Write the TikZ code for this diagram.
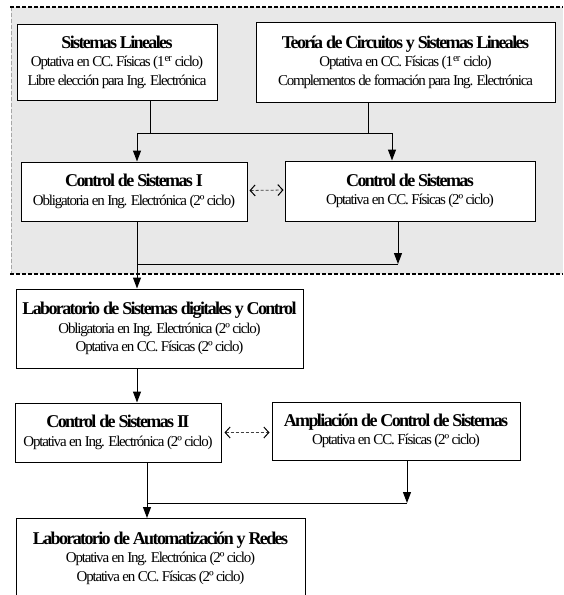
\documentclass[tikz,border=0pt]{standalone}
\usepackage{fontspec}
\setmainfont{Liberation Serif}
\usetikzlibrary{arrows.meta,calc,positioning}
\definecolor{zona}{HTML}{E8E8E8}

\newcommand{\asig}[1]{{\fontsize{18}{19}\selectfont\bfseries\addfontfeature{LetterSpace=-9}#1}}
\newcommand{\detalle}{\fontsize{15}{18.5}\selectfont\addfontfeature{LetterSpace=-8}}

\begin{document}
\begin{tikzpicture}[
  x=1pt,y=-1pt,
  line cap=butt,line join=miter,
  >={Triangle[width=8pt,length=11pt]}
]
  \tikzset{
    course/.style={draw, line width=1pt, fill=white, align=center, inner sep=0pt, font=\detalle},
    flow/.style={line width=1pt,->},
    link/.style={line width=1pt},
    equiv/.style={line width=0.8pt, draw=black!75, dash pattern=on 3pt off 2pt,
      {Straight Barb[length=5pt,width=11pt,line width=1pt,color=black]}-{Straight Barb[length=5pt,width=11pt,line width=1pt,color=black]}},
    zonaedge/.style={line width=1.3pt, dash pattern=on 4pt off 2pt}
  }
  \useasboundingbox (0,0) rectangle (563,595);
  \clip (0,0) rectangle (563,595);

  % Common first-cycle zone
  \fill[zona] (11,7) rectangle (563,274);
  \draw[line width=0.6pt, draw=black!35, dash pattern=on 4pt off 2pt] (11,7) -- (11,274);
  \draw[zonaedge] (10,7) -- (563,7);
  \draw[zonaedge] (10,274) -- (563,274);

  % Subjects
  \node[course, minimum width=200pt, minimum height=76pt] (sl) at (117,62)
    {\asig{Sistemas Lineales}\\ Optativa en CC. Físicas (1\textsuperscript{er} ciclo)\\ Libre elección para Ing. Electrónica};
  \node[course, minimum width=299pt, minimum height=80pt] (tcsl) at (405.5,62)
    {\asig{Teoría de Circuitos y Sistemas Lineales}\\ Optativa en CC. Físicas (1\textsuperscript{er} ciclo)\\ Complementos de formación para Ing. Electrónica};
  \node[course, minimum width=226pt, minimum height=59pt] (csi) at (134,191.5)
    {\asig{Control de Sistemas I}\\ Obligatoria en Ing. Electrónica (2º ciclo)};
  \node[course, minimum width=250pt, minimum height=60pt] (cs) at (410,191)
    {\asig{Control de Sistemas}\\ Optativa en CC. Físicas (2º ciclo)};
  \node[course, minimum width=287pt, minimum height=79pt] (lsdc) at (159.5,328.5)
    {\asig{Laboratorio de Sistemas digitales y Control}\\ Obligatoria en Ing. Electrónica (2º ciclo)\\ Optativa en CC. Físicas (2º ciclo)};
  \node[course, minimum width=206pt, minimum height=59pt] (csii) at (118,432.5)
    {\asig{Control de Sistemas II}\\ Optativa en Ing. Electrónica (2º ciclo)};
  \node[course, minimum width=248pt, minimum height=58pt] (acs) at (396,431)
    {\asig{Ampliación de Control de Sistemas}\\ Optativa en CC. Físicas (2º ciclo)};
  \node[course, minimum width=289pt, minimum height=79pt, anchor=north] (lar) at (160.5,518)
    {\asig{Laboratorio de Automatización y Redes}\\ Optativa en Ing. Electrónica (2º ciclo)\\ Optativa en CC. Físicas (2º ciclo)};

  % Junctions
  \coordinate (ja) at (150,133);
  \coordinate (jb) at (368,133);
  \coordinate (jl) at (137,133);
  \coordinate (jr) at (392,133);
  \coordinate (kl) at (137,264);
  \coordinate (kr) at (398,264);
  \coordinate (ml) at (147,503);
  \coordinate (mr) at (407,503);

  % Connectors
  \draw[link] (ja |- sl.south) -- (ja);
  \draw[link] (jb |- tcsl.south) -- (jb);
  \draw[link] (jl) -- (jr);
  \draw[flow] (jl) -- (jl |- csi.north);
  \draw[flow] (jr) -- (jr |- cs.north);
  \draw[flow] (kl |- csi.south) -- (kl |- lsdc.north);
  \draw[flow] (kr |- cs.south) -- (kr);
  \draw[link] (kr) -- (kl);
  \draw[flow] (kl |- lsdc.south) -- (kl |- csii.north);
  \draw[flow] (ml |- csii.south) -- (ml |- lar.north);
  \draw[flow] (mr |- acs.south) -- (mr);
  \draw[link] (mr) -- (ml);

  % Equivalences
  \draw[equiv] ($(csi.east)+(2,-1)$) -- ($(cs.west)+(-1,-1)$);
  \draw[equiv] ($(csii.east)+(3,0)$) -- ($(csii.east -| acs.west)+(-2,0)$);
\end{tikzpicture}
\end{document}
